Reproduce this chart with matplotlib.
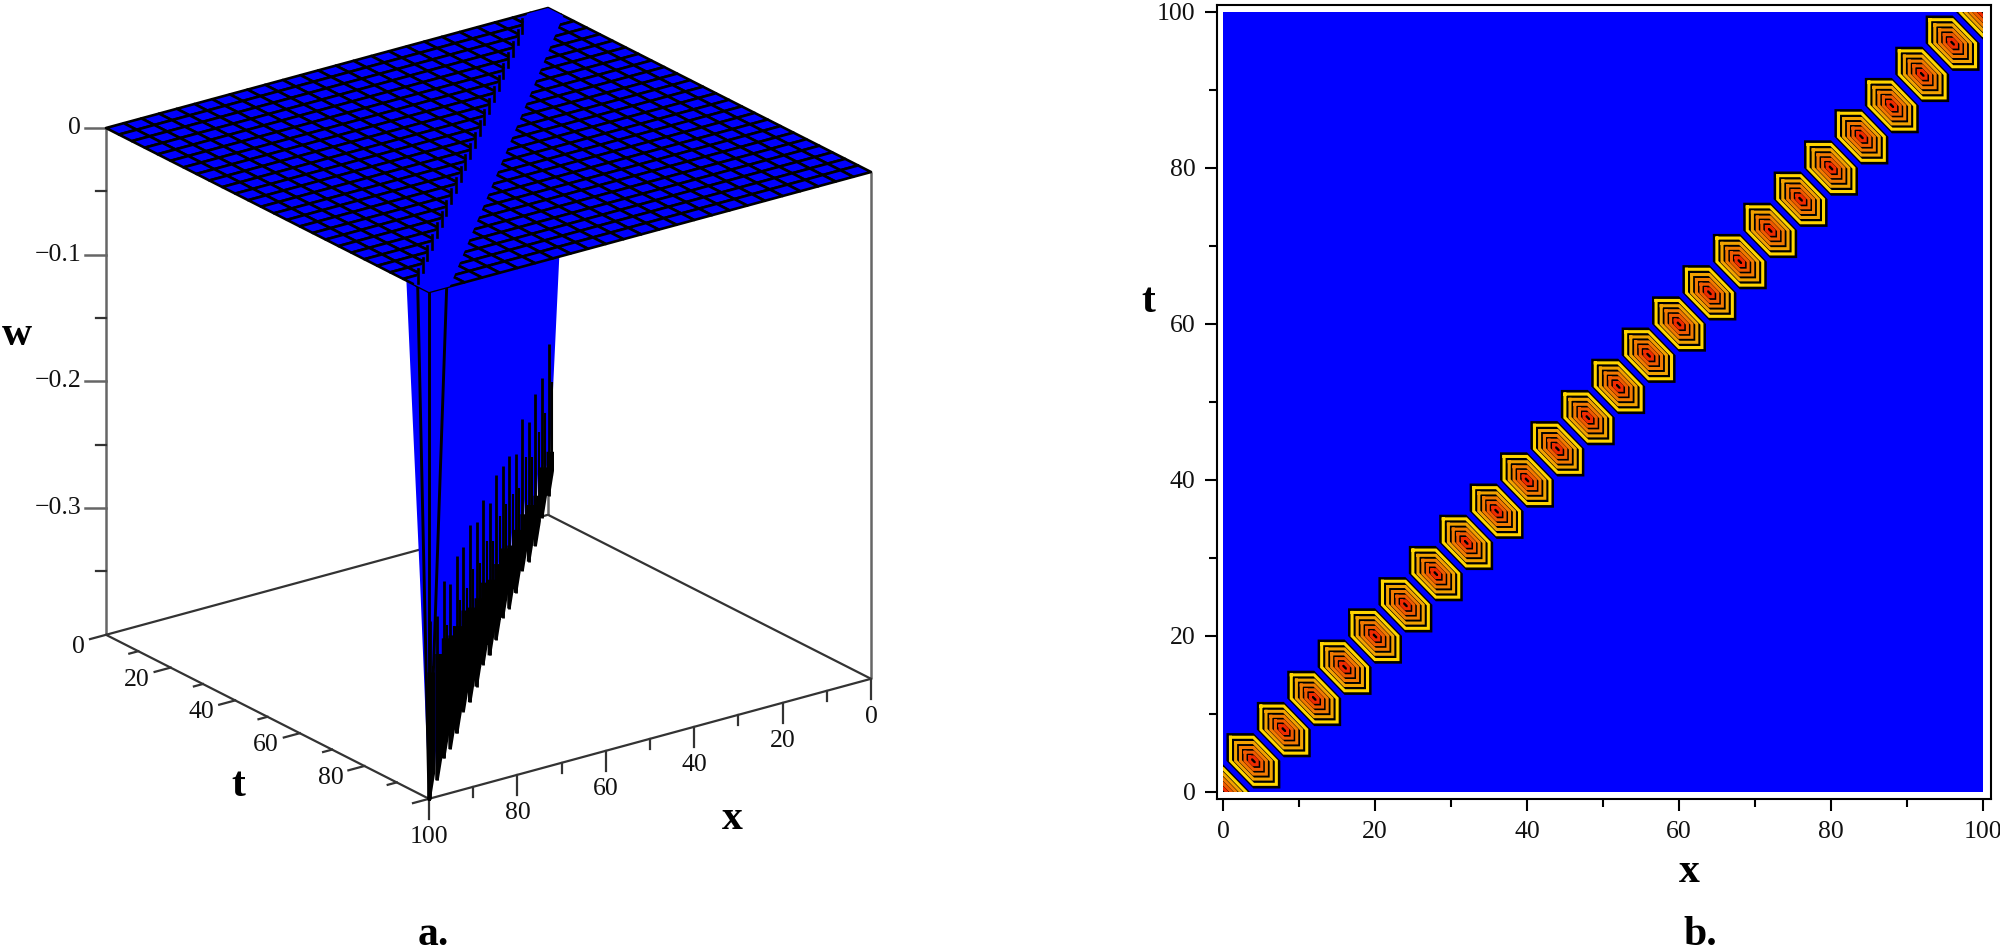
import numpy as np
import matplotlib
matplotlib.use('Agg')
import matplotlib.pyplot as plt
from matplotlib.collections import PolyCollection

plt.rcParams['font.family'] = ['Liberation Serif', 'DejaVu Serif']

# values
x_major = [0, 20, 40, 60, 80, 100]
x_minor = [10, 30, 50, 70, 90]
w_major = [0, -0.1, -0.2, -0.3]
w_minor = [-0.05, -0.15, -0.25, -0.35]
w_labels = ['0', '\u22120.1', '\u22120.2', '\u22120.3']
w_bottom = -0.4

mesh_nodes = [0, 4, 8, 12, 16, 20, 24, 28, 32, 36, 40, 44, 48, 52, 56, 60, 64, 68, 72, 76, 80, 84, 88, 92, 96, 100]
band_half = 4.7

# along the x=t trough (position, tip depth, height of the bars, height of the solid black)
spike_pos = [0, 5.5, 11, 16.5, 22, 27.5, 33, 38.5, 44, 49.5, 55, 60.5, 66, 71.5, 77, 82.5, 88, 93.5, 100]
spike_w = [-0.385, -0.39, -0.40, -0.40, -0.395, -0.40, -0.40, -0.395, -0.40, -0.40, -0.395, -0.40, -0.40, -0.395, -0.40, -0.40, -0.395, -0.40, -0.40]
spike_bar = [0.12, 0.11, 0.12, 0.11, 0.12, 0.11, 0.12, 0.12, 0.13, 0.12, 0.13, 0.13, 0.14, 0.13, 0.14, 0.13, 0.14, 0.13, 0.14]
spike_dark = [0.015, 0.02, 0.02, 0.025, 0.025, 0.03, 0.03, 0.035, 0.04, 0.04, 0.045, 0.05, 0.055, 0.06, 0.065, 0.07, 0.075, 0.08, 0.08]
side_d = [2.8, 7.0]
side_w = [-0.23, 0]

# panel b, solitons along x=t
centres = [0, 4, 8, 12, 16, 20, 24, 28, 32, 36, 40, 44, 48, 52, 56, 60, 64, 68, 72, 76, 80, 84, 88, 92, 96, 100]
ring_scale = [0.85, 0.66, 0.48, 0.31, 0.14]
ring_color = ['#FFD500', '#F2A200', '#F27A00', '#F05A00', '#F02A00']
hex_x = [-3.55, 0, 3.55, 3.55, 0, -3.55, -3.55]
hex_y = [3.55, 3.55, 0, -3.55, -3.55, 0, 3.55]

BLUE = '#0000FF'
W, H = 2000, 952

def proj(x, t, w):
    # back corner (x=0,t=0,w=0) sits at pixel 548,8
    x, t, w = np.asarray(x, float), np.asarray(t, float), np.asarray(w, float)
    return 548 - 4.42*x + 3.23*t, 8 + 1.20*x + 1.64*t - 1267*w

def side(s, d, left):
    if left:
        return (s + d, s) if s + d <= 100 else (s, s - d)
    return (s, s + d) if s + d <= 100 else (s - d, s)

fig = plt.figure(figsize=(W/100, H/100), dpi=100)
ax = fig.add_axes([0, 0, 1, 1])
ax.set_xlim(0, W)
ax.set_ylim(H, 0)
ax.axis('off')

grey = '#666666'
dark = '#333333'
tick_size = 18.5

def line3(p, q, color=dark, lw=1.6, z=2):
    a = proj(*p)
    b = proj(*q)
    ax.plot([a[0], b[0]], [a[1], b[1]], color=color, lw=lw, zorder=z, solid_capstyle='butt')

# box behind the surface
for cx, ct in [(100, 0), (0, 100), (0, 0), (100, 100)]:
    line3((cx, ct, 0), (cx, ct, w_bottom), color=grey, lw=1.8)
line3((100, 0, w_bottom), (0, 0, w_bottom))
line3((0, 100, w_bottom), (0, 0, w_bottom))
line3((100, 0, w_bottom), (100, 100, w_bottom))
line3((100, 100, w_bottom), (0, 100, w_bottom))

# t axis ticks run along +x, x axis ticks straight down, w axis ticks to the left
for t in x_major + x_minor:
    n = 16 if t in x_major else 9
    a = proj(100, t, w_bottom)
    ax.plot([a[0], a[0] - n], [a[1], a[1] + n*0.27], color=dark, lw=1.6, zorder=2)
for t in x_major[:-1]:
    a = proj(100, t, w_bottom)
    ax.text(a[0] - 21, a[1] + 12, str(t), ha='right', va='center', fontsize=tick_size, color='#111111')
for x in x_major + x_minor:
    n = 20 if x in x_major else 10
    a = proj(x, 100, w_bottom)
    ax.plot([a[0], a[0]], [a[1], a[1] + n], color=dark, lw=1.6, zorder=2)
for x in x_major:
    a = proj(x, 100, w_bottom)
    ax.text(a[0], a[1] + 38, str(x), ha='center', va='center', fontsize=tick_size, color='#111111')
for w, lab in zip(w_major, w_labels):
    a = proj(100, 0, w)
    ax.plot([a[0] - 21, a[0]], [a[1], a[1]], color=grey, lw=1.8, zorder=2)
    ax.text(a[0] - 25, a[1], lab, ha='right', va='center', fontsize=tick_size, color='#111111')
for w in w_minor:
    a = proj(100, 0, w)
    ax.plot([a[0] - 10, a[0]], [a[1], a[1]], color=dark, lw=1.6, zorder=2)

# trough walls, back to front
for s, tip in zip(spike_pos, spike_w):
    pts = [(side(s, side_d[1], True), side_w[1]), (side(s, side_d[0], True), side_w[0]), ((s, s), tip),
           (side(s, side_d[0], False), side_w[0]), (side(s, side_d[1], False), side_w[1])]
    xs = []
    ys = []
    for p, w in pts:
        a = proj(p[0], p[1], w)
        xs.append(a[0])
        ys.append(a[1])
    ax.fill(xs, ys, color=BLUE, lw=0, zorder=3)

# dark teeth and bars on top of the walls
for s, tip, bar, solid in zip(spike_pos, spike_w, spike_bar, spike_dark):
    px, py = proj(s, s, tip)
    top = py - 1267*solid
    ax.fill([px - 1.5, px + 2, px + 6, px + 6, px - 1.5], [py, py, py - 25, top - 25, top - 25], color='black', lw=0, zorder=4)
    ax.plot([px + 0.5, px + 0.5], [py, py - 1267*bar], color='black', lw=2.0, zorder=4, solid_capstyle='butt')
    ax.plot([px + 4, px + 4], [py - 20, py - 1267*bar*0.75], color='black', lw=1.5, zorder=4, solid_capstyle='butt')

# the three long lines of the front corner
front = proj(100, 100, -0.4)
for p in [(100, 96.5), (100, 100), (96, 100)]:
    a = proj(p[0], p[1], 0)
    ax.plot([a[0], front[0]], [a[1], front[1]], color='black', lw=2.1, zorder=5)

cells = []
for i in range(len(mesh_nodes) - 1):
    for j in range(len(mesh_nodes) - 1):
        a0, a1 = mesh_nodes[i], mesh_nodes[i + 1]
        b0, b1 = mesh_nodes[j], mesh_nodes[j + 1]
        px, py = proj([a0, a1, a1, a0], [b0, b0, b1, b1], [0, 0, 0, 0])
        cells.append(np.column_stack([px, py]))
ax.add_collection(PolyCollection(cells, facecolors=BLUE, edgecolors='black', linewidths=1.9, zorder=6))

# open band over the trough, with the short mesh teeth on its left side
bx, by = proj([0, 100 - band_half, 100, 100, band_half, 0],
              [band_half, 100, 100, 100 - band_half, 0, 0], [0]*6)
ax.fill(bx, by, color=BLUE, lw=0, zorder=7)
for n in mesh_nodes[1:-2]:
    a = proj(n + band_half, n, 0)
    ax.plot([a[0], a[0]], [a[1] - 6, a[1] + 8], color='black', lw=1.9, zorder=8)

lab = dict(family=['Liberation Serif', 'DejaVu Serif'], fontweight='bold', fontsize=30, color='black', ha='center', va='center')
ax.text(17, 335, 'w', **lab)
ax.text(238, 786, 't', **lab)
ax.text(732, 819, 'x', **lab)
ax.text(433, 935, 'a.', **lab)
ax.text(1700, 935, 'b.', **lab)
ax.text(1689, 872, 'x', **lab)
ax.text(1148, 302, 't', **lab)

# panel b
L, R, T, B = 1217, 1991, 5, 799
axb = fig.add_axes([L/W, 1 - B/H, (R - L)/W, (B - T)/H])
axb.set_xlim((L - 1223)/7.6, (R - 1223)/7.6)
axb.set_ylim((792 - B)/7.8, (792 - T)/7.8)
bg = plt.Rectangle((0, 0), 100, 100, color=BLUE, lw=0, zorder=1)
axb.add_patch(bg)
for c in centres:
    p = axb.fill(np.array(hex_x) + c, np.array(hex_y) + c, color='black', lw=0, zorder=2)
    p[0].set_clip_path(bg)
    for sc, col in zip(ring_scale, ring_color):
        q = axb.plot(np.array(hex_x)*sc + c, np.array(hex_y)*sc + c, color=col, lw=2.2, zorder=3, solid_joinstyle='miter')
        q[0].set_clip_path(bg)

axb.set_xticks(x_major)
axb.set_yticks(x_major)
axb.set_xticks(x_minor, minor=True)
axb.set_yticks(x_minor, minor=True)
axb.tick_params(which='major', length=8.5, width=1.5, labelsize=tick_size, pad=7, labelcolor='#111111')
axb.tick_params(which='minor', length=5.5, width=1.5)
for sp in axb.spines.values():
    sp.set_linewidth(1.5)

fig.savefig('out.png', dpi=100)
